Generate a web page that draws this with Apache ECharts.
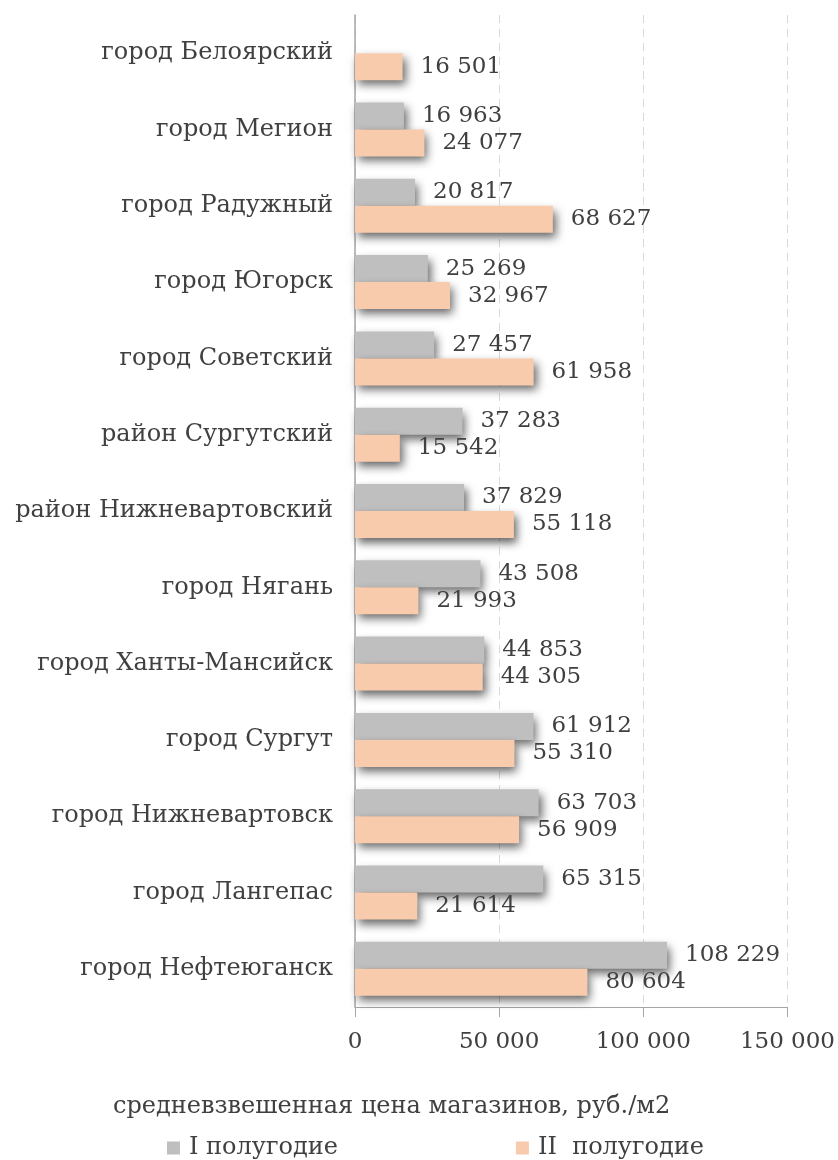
<!DOCTYPE html>
<html>
<head>
<meta charset="utf-8">
<script src="https://cdn.jsdelivr.net/npm/echarts@6/dist/echarts.min.js"></script>
<style>
html,body{margin:0;padding:0;background:#fff;}
#main{width:838px;height:1160px;}
</style>
</head>
<body>
<div id="main"></div>
<script>
var cities = ['город Белоярский','город Мегион','город Радужный','город Югорск','город Советский',
    'район Сургутский','район Нижневартовский','город Нягань','город Ханты-Мансийск',
    'город Сургут','город Нижневартовск','город Лангепас','город Нефтеюганск'];
var half1 = [null,16963,20817,25269,27457,37283,37829,43508,44853,61912,63703,65315,108229];
var half2 = [16501,24077,68627,32967,61958,15542,55118,21993,44305,55310,56909,21614,80604];
var seriesNames = ['I полугодие','II  полугодие'];
var axisTitle = 'средневзвешенная цена магазинов, руб./м2';

var fontFam = 'DejaVu Serif';
var txtColor = '#404040';

function fmt(v){
    if(v==null||v==='-') return '';
    return String(Math.round(v)).replace(/\B(?=(\d{3})+(?!\d))/g,' ');
}

var barShadow = {
    shadowBlur: 9,
    shadowOffsetX: 3,
    shadowOffsetY: 5,
    shadowColor: 'rgba(0,0,0,0.6)'
};

var dom = document.getElementById('main');
var myChart = echarts.init(dom);
var option = {
    animation:false,
    textStyle:{fontFamily:fontFam},
    title:{
        text: axisTitle,
        left: 108, top: 1090,
        textStyle:{fontFamily:fontFam,fontSize:24,fontWeight:'normal',color:txtColor}
    },
    legend:{
        top: 1131, left: 162,
        itemWidth: 13, itemHeight: 13, itemGap: 178,
        icon:'rect',
        textStyle:{fontFamily:fontFam,fontSize:24,color:txtColor,padding:[0,0,0,4]},
        data: seriesNames
    },
    grid:{left:355,right:50,top:15,bottom:153,containLabel:false},
    xAxis:{
        type:'value',min:0,max:150000,interval:50000,
        axisLine:{show:true,lineStyle:{color:'#a6a6a6',width:1}},
        axisTick:{show:true,length:10,lineStyle:{color:'#a6a6a6'}},
        splitLine:{show:true,lineStyle:{color:'#d9d9d9',type:[8,6]}},
        axisLabel:{margin:24,fontFamily:fontFam,fontSize:23,color:txtColor,formatter:fmt}
    },
    yAxis:{
        type:'category',inverse:true,data:cities,
        axisLine:{show:true,lineStyle:{color:'#a6a6a6',width:1.5}},
        axisTick:{show:false},
        axisLabel:{margin:22,fontFamily:fontFam,fontSize:24,color:txtColor}
    },
    series:[
        {
            name:seriesNames[0],type:'bar',data:half1,barWidth:27,barGap:'0%',
            itemStyle:Object.assign({color:'#bfbfbf'},barShadow),
            label:{show:true,position:'right',distance:18,fontFamily:fontFam,fontSize:23,color:txtColor,
                formatter:function(p){return fmt(p.value);}}
        },
        {
            name:seriesNames[1],type:'bar',data:half2,barWidth:27,barGap:'0%',
            itemStyle:Object.assign({color:'#f8cbad'},barShadow),
            label:{show:true,position:'right',distance:18,fontFamily:fontFam,fontSize:23,color:txtColor,
                formatter:function(p){return fmt(p.value);}}
        }
    ]
};
myChart.setOption(option, true);
</script>
</body>
</html>
